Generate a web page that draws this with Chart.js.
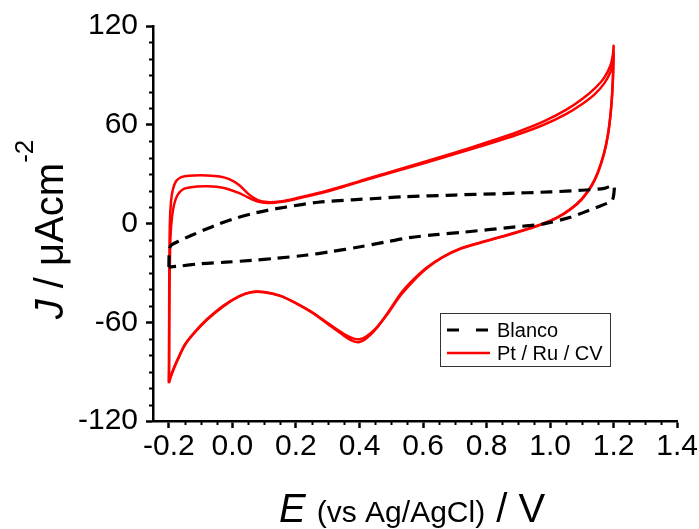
<!DOCTYPE html>
<html>
<head>
<meta charset="utf-8">
<script src="https://cdn.jsdelivr.net/npm/chart.js@4.4.1/dist/chart.umd.min.js"></script>
<style>
  html, body { margin: 0; padding: 0; background: #fff; }
  #wrap { width: 699px; height: 529px; }
</style>
</head>
<body>
<div id="wrap"><canvas id="cv-graph" width="699" height="529"></canvas></div>
<script>
// tick labels
const xTicks = [-0.2, 0.0, 0.2, 0.4, 0.6, 0.8, 1.0, 1.2, 1.4];
const yTicks = [-120, -60, 0, 60, 120];

// Blanco (black dashed)
const blancoE = [-0.2, -0.1995, -0.198, -0.19, -0.17, -0.13, -0.09, -0.045, 0.0, 0.06, 0.11, 0.166, 0.27, 0.377, 0.45, 0.535, 0.7, 0.852, 1.0, 1.1, 1.17, 1.2,
                 1.2, 1.195, 1.18, 1.148, 1.1, 1.064, 0.98, 0.884, 0.726, 0.64, 0.557, 0.48, 0.398, 0.31, 0.23, 0.14, 0.06, -0.02, -0.098, -0.172, -0.2];
const blancoJ = [-26.5, -20, -15, -12.8, -10.8, -7.3, -4, -0.5, 2.6, 5.9, 8, 9.9, 12.9, 14.4, 15.2, 16.2, 17.3, 18.2, 19.2, 20.2, 21.3, 23,
                 17, 14, 12.3, 9.9, 6.3, 3.8, -0.2, -2.2, -5.3, -6.8, -8.6, -11.3, -14.3, -17.1, -19.3, -21.1, -22.4, -23.5, -24.4, -26, -26.5];

// Pt / Ru / CV, cycle 1
const cv1E = [-0.2, -0.1995, -0.199, -0.197, -0.193, -0.187, -0.178, -0.165, -0.15, -0.12, -0.08, -0.04, -0.01, 0.02, 0.05, 0.08, 0.11, 0.15, 0.2, 0.27, 0.35, 0.43, 0.5, 0.6, 0.7, 0.8, 0.9, 0.98, 1.05, 1.1, 1.14, 1.17, 1.19, 1.198, 1.2,
              1.1995, 1.198, 1.195, 1.19, 1.182, 1.17, 1.15, 1.13, 1.1, 1.065, 1.02, 0.97, 0.9, 0.8, 0.72, 0.66, 0.61, 0.57, 0.53, 0.49, 0.45, 0.42, 0.40, 0.38, 0.35, 0.3, 0.25, 0.2, 0.15, 0.1, 0.06, 0.02, -0.03, -0.08, -0.12, -0.15, -0.175, -0.19, -0.197, -0.2];
const cv1J = [-97, -88, -40, 0, 14, 21, 25.5, 27.8, 28.7, 29.2, 29.2, 28.6, 27, 23.5, 18, 14.2, 13, 13.4, 15.3, 18.5, 22.8, 27.5, 31.5, 37.2, 43, 49.2, 55.8, 62, 69, 75.5, 82, 88.5, 96, 103, 108,
              101, 90, 78, 66, 54, 43, 31, 23, 15, 9, 3.5, -0.5, -5, -10.5, -15, -20.5, -27, -34, -42.5, -54, -64.5, -70, -72, -71.5, -68, -61, -54, -48.5, -44, -41.8, -41.8, -44.5, -50.5, -58.5, -66.5, -74, -84, -91, -95, -97];

// Pt / Ru / CV, cycle 2
const cv2E = [-0.2, -0.1995, -0.198, -0.195, -0.19, -0.183, -0.172, -0.155, -0.13, -0.09, -0.05, -0.02, 0.02, 0.05, 0.08, 0.11, 0.15, 0.2, 0.27, 0.35, 0.43, 0.5, 0.6, 0.7, 0.8, 0.9, 0.98, 1.05, 1.1, 1.14, 1.17, 1.19, 1.198, 1.2,
              1.1995, 1.198, 1.195, 1.19, 1.182, 1.17, 1.15, 1.13, 1.1, 1.065, 1.02, 0.97, 0.9, 0.8, 0.72, 0.66, 0.61, 0.57, 0.53, 0.49, 0.45, 0.42, 0.40, 0.38, 0.35, 0.3, 0.25, 0.2, 0.15, 0.1, 0.06, 0.02, -0.03, -0.08, -0.12, -0.15, -0.175, -0.19, -0.197, -0.2];
const cv2J = [-96, -85, -40, -8, 4, 12, 17.5, 20.8, 22, 22.6, 22.4, 21.3, 18.6, 15.8, 13.4, 12.5, 13, 14.9, 18, 22.3, 27, 31, 36.5, 42.2, 48, 54.2, 60, 66.5, 72.5, 78.5, 85, 92, 98, 104,
              98, 88, 77, 65.5, 53.5, 42.5, 30.5, 22.5, 14.7, 8.7, 3.2, -0.8, -5.2, -10.7, -15.3, -20.8, -27.5, -34.8, -43.5, -54.5, -64, -68.8, -70.3, -69.8, -67, -60.5, -53.8, -48.3, -43.8, -41.6, -41.6, -44.2, -50.2, -58.2, -66.2, -73.6, -83.6, -90.5, -94.5, -96.5];

const FONT = '"Liberation Sans", Arial, sans-serif';

function pts(xs, ys) {
    return xs.map((x, i) => ({ x: x, y: ys[i] }));
}

// minor ticks, axis titles and the boxed legend
const extras = {
    id: 'extras',
    afterDraw(chart) {
        const ctx = chart.ctx;
        const xs = chart.scales.x, ys = chart.scales.y;
        const a = chart.chartArea;
        ctx.save();
        ctx.strokeStyle = '#000';
        ctx.lineWidth = 2;
        for (let i = -4; i <= 28; i++) {
            if (i % 4 === 0) continue;
            const px = Math.round(xs.getPixelForValue(i * 0.05)) + 0.5;
            ctx.beginPath(); ctx.moveTo(px, a.bottom); ctx.lineTo(px, a.bottom + 4); ctx.stroke();
        }
        for (let v = -110; v <= 110; v += 10) {
            if (v % 60 === 0) continue;
            const py = Math.round(ys.getPixelForValue(v)) + 0.5;
            ctx.beginPath(); ctx.moveTo(a.left - 4, py); ctx.lineTo(a.left, py); ctx.stroke();
        }

        ctx.fillStyle = '#000';
        ctx.textBaseline = 'alphabetic';
        ctx.textAlign = 'left';

        // x title
        const bigI = 'italic 40px ' + FONT, big = '40px ' + FONT, small = '30px ' + FONT;
        const parts = [[bigI, 'E'], [big, ' '], [small, '(vs Ag/AgCl)'], [big, ' / V']];
        let w = 0;
        parts.forEach(p => { ctx.font = p[0]; w += ctx.measureText(p[1]).width; });
        let x = (a.left + a.right) / 2 - w / 2 - 3;
        parts.forEach(p => { ctx.font = p[0]; ctx.fillText(p[1], x, 522); x += ctx.measureText(p[1]).width; });

        // y title, rotated
        const sup = '26px ' + FONT;
        const yparts = [[bigI, 'J', 0], [big, ' / \u03bcAcm', 0], [sup, '-2', -30]];
        w = 0;
        yparts.forEach(p => { ctx.font = p[0]; w += ctx.measureText(p[1]).width; });
        ctx.save();
        ctx.translate(63, (a.top + a.bottom) / 2 + 6);
        ctx.rotate(-Math.PI / 2);
        x = -w / 2;
        yparts.forEach(p => { ctx.font = p[0]; ctx.fillText(p[1], x, p[2]); x += ctx.measureText(p[1]).width; });
        ctx.restore();

        // legend
        ctx.strokeStyle = '#333';
        ctx.lineWidth = 1;
        ctx.strokeRect(440.5, 313.5, 170, 53);
        ctx.font = '20px ' + FONT;
        ctx.textBaseline = 'middle';
        const items = chart.data.datasets.filter(d => d.label);
        items.forEach((d, i) => {
            const ly = 330 + i * 23;
            ctx.strokeStyle = d.borderColor;
            ctx.lineWidth = d.borderWidth;
            ctx.setLineDash(d.borderDash && d.borderDash.length ? [12, 17] : []);
            ctx.beginPath(); ctx.moveTo(447, ly); ctx.lineTo(490, ly); ctx.stroke();
            ctx.setLineDash([]);
            ctx.fillText(d.label, 497, ly + 1);
        });
        ctx.restore();
    }
};

new Chart('cv-graph', {
    type: 'scatter',
    data: {
        datasets: [
            { label: 'Blanco', data: pts(blancoE, blancoJ), showLine: true, borderColor: '#000', borderWidth: 3.2, borderDash: [12, 7], pointRadius: 0, tension: 0.3 },
            { label: 'Pt / Ru / CV', data: pts(cv1E, cv1J), showLine: true, borderColor: '#ff0000', borderWidth: 2.5, pointRadius: 0, tension: 0.3 },
            { label: '', data: pts(cv2E, cv2J), showLine: true, borderColor: '#ff0000', borderWidth: 2.5, pointRadius: 0, tension: 0.3 }
        ]
    },
    options: {
        responsive: false,
        animation: false,
        devicePixelRatio: 1,
        layout: { padding: { top: 25, right: 21, left: 0, bottom: 0 } },
        plugins: { legend: { display: false }, tooltip: { enabled: false } },
        scales: {
            x: {
                type: 'linear', min: -0.25, max: 1.4,
                afterBuildTicks: s => { s.ticks = xTicks.map(v => ({ value: v })); },
                afterFit: s => { s.height = 108; },
                ticks: { color: '#000', font: { family: FONT, size: 30 }, padding: 1, maxRotation: 0, callback: v => v.toFixed(1) },
                grid: { drawOnChartArea: false, tickLength: 7, tickWidth: 2.5, tickColor: '#000' },
                border: { color: '#000', width: 2.5 }
            },
            y: {
                min: -120, max: 120,
                afterBuildTicks: s => { s.ticks = yTicks.map(v => ({ value: v })); },
                afterFit: s => { s.width = 153; },
                ticks: { color: '#000', font: { family: FONT, size: 30 }, padding: 8, callback: v => String(v) },
                grid: { drawOnChartArea: false, tickLength: 7, tickWidth: 2.5, tickColor: '#000' },
                border: { color: '#000', width: 2.5 }
            }
        }
    },
    plugins: [extras]
});
</script>
</body>
</html>
